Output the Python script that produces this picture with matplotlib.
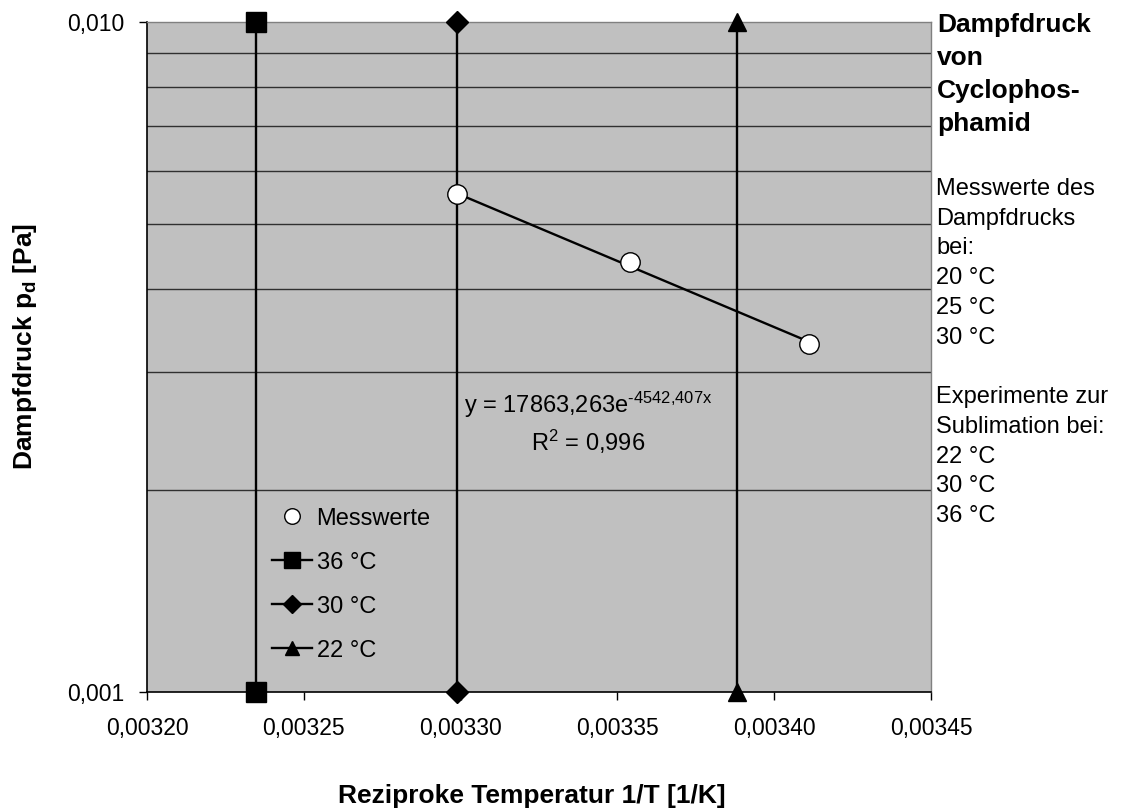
import numpy as np
import matplotlib.pyplot as plt
from matplotlib.ticker import FixedLocator, NullFormatter

plt.rcParams['font.family'] = ['Liberation Sans', 'DejaVu Sans']
plt.rcParams['mathtext.fontset'] = 'custom'
plt.rcParams['mathtext.rm'] = 'Liberation Sans'
plt.rcParams['mathtext.it'] = 'Liberation Sans:italic'
plt.rcParams['mathtext.bf'] = 'Liberation Sans:bold'

# Messwerte (1/T in 1/K, Dampfdruck in Pa)
mess_x = [0.0032987, 0.0033540, 0.0034112]
mess_y = [0.00553, 0.00438, 0.00331]

# Sublimationsexperimente: senkrechte Linien
exp_labels = ['36 °C', '30 °C', '22 °C']
exp_x = [0.0032347, 0.0032987, 0.0033881]
exp_markers = ['s', 'D', '^']
exp_y = [0.001, 0.010]

# Trendlinie y = a * exp(b x)
fit_a = 17863.263
fit_b = -4542.407

x_ticks = [0.00320, 0.00325, 0.00330, 0.00335, 0.00340, 0.00345]
x_ticklabels = ['0,00320', '0,00325', '0,00330', '0,00335', '0,00340', '0,00345']
y_ticks = [0.001, 0.010]
y_ticklabels = ['0,001', '0,010']

fig = plt.figure(figsize=(11.25, 8.09), dpi=100)
ax = fig.add_axes([147 / 1125, 117 / 809, 784 / 1125, 670 / 809])
ax.set_facecolor('#C0C0C0')
ax.set_yscale('log')
ax.set_xlim(0.00320, 0.00345)
ax.set_ylim(0.001, 0.010)

# Gitterlinien
for v in np.arange(2, 10) * 0.001:
    ax.axhline(v, color='#303030', lw=1.0, zorder=1)

fx = np.linspace(mess_x[0], mess_x[-1], 50)
ax.plot(fx, fit_a * np.exp(fit_b * fx), color='black', lw=1.7, zorder=3)

ax.plot(mess_x, mess_y, 'o', ms=14, mfc='white', mec='black', mew=1,
        label='Messwerte', zorder=5, clip_on=False)
sizes = {'s': 14, 'D': 11, '^': 13}
for lab, x, m in zip(exp_labels, exp_x, exp_markers):
    ax.plot([x, x], exp_y, color='black', lw=1.7, marker=m, ms=sizes[m],
            mfc='black', mec='black', label=lab, zorder=4, clip_on=False)

ax.text(0.0033406, 0.00252,
        'y = 17863,263e$^{\\mathregular{\u20104542{,}407x}}$\nR$^{\\mathregular{2}}$ = 0,996',
        ha='center', va='center', fontsize=17, linespacing=1.35, zorder=6)

ax.set_xticks(x_ticks)
ax.set_xticklabels(x_ticklabels, fontsize=16.5)
ax.yaxis.set_major_locator(FixedLocator(y_ticks))
ax.yaxis.set_minor_locator(FixedLocator([]))
ax.yaxis.set_minor_formatter(NullFormatter())
ax.set_yticklabels(y_ticklabels, fontsize=16.5)
ax.tick_params(axis='x', direction='out', length=6, width=1, pad=12)
ax.tick_params(axis='y', direction='out', length=6, width=1, pad=10)
for s in ['left', 'bottom']:
    ax.spines[s].set_color('black')
    ax.spines[s].set_linewidth(1.2)
for s in ['top', 'right']:
    ax.spines[s].set_color('#808080')
    ax.spines[s].set_linewidth(1)

fig.text(532 / 1125, 6 / 809, 'Reziproke Temperatur 1/T [1/K]', fontsize=19,
         fontweight='bold', ha='center', va='baseline')
fig.text(25 / 1125, 1 - 346 / 809, 'Dampfdruck p$_\\mathbf{d}$ [Pa]', fontsize=19,
         fontweight='bold', ha='center', va='center', rotation=90)

leg = ax.legend(loc='upper left', bbox_to_anchor=(0.159, 0.275), borderaxespad=0, borderpad=0,
                frameon=False, fontsize=17, handlelength=1.7, handletextpad=0.2,
                labelspacing=0.93, markerscale=0.8)

fig.text(937 / 1125, 1 - 13 / 809, 'Dampfdruck\nvon\nCyclophos-\nphamid', fontsize=19,
         fontweight='bold', va='top', ha='left', linespacing=1.48)
fig.text(936 / 1125, 1 - 178 / 809,
         'Messwerte des\nDampfdrucks\nbei:\n20 °C\n25 °C\n30 °C\n\nExperimente zur\nSublimation bei:\n22 °C\n30 °C\n36 °C',
         fontsize=17, va='top', ha='left', linespacing=1.455)

fig.savefig('out.png', dpi=100)
